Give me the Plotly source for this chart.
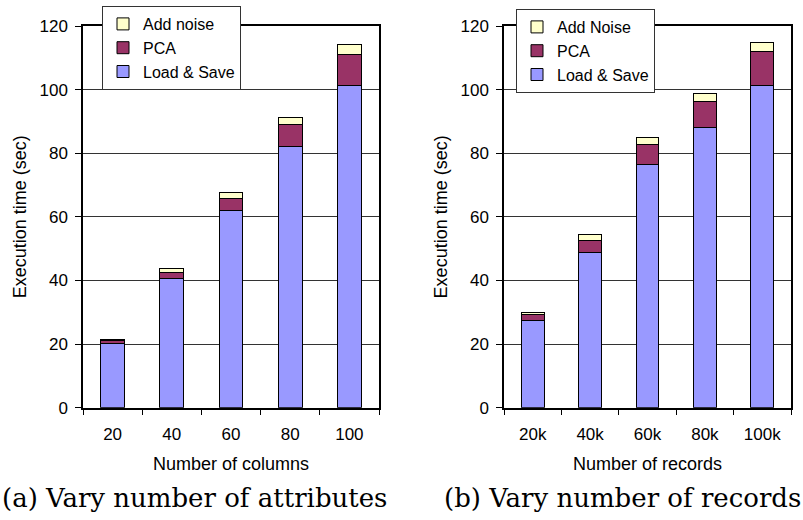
import plotly.graph_objects as go

cols = ["20", "40", "60", "80", "100"]
cols_load = [20.2, 40.5, 62.0, 82.2, 101.2]
cols_pca = [0.8, 2.0, 3.9, 6.7, 9.9]
cols_noise = [0.5, 1.2, 1.8, 2.4, 3.0]

recs = ["20k", "40k", "60k", "80k", "100k"]
recs_load = [27.5, 48.8, 76.4, 88.2, 101.2]
recs_pca = [1.7, 3.8, 6.2, 8.0, 10.7]
recs_noise = [0.7, 1.8, 2.2, 2.5, 2.9]

C_LOAD = "#9999FF"
C_PCA = "#993366"
C_NOISE = "#FFFFCC"

SANS = "Liberation Sans"

fig = go.Figure()
line = dict(color="black", width=1)

def add_group(xs, load, pca, noise, noise_name, xa, ya, leg):
    fig.add_trace(go.Bar(x=xs, y=load, name="Load & Save", marker=dict(color=C_LOAD, line=line),
                         xaxis=xa, yaxis=ya, legend=leg, width=0.4))
    fig.add_trace(go.Bar(x=xs, y=pca, name="PCA", marker=dict(color=C_PCA, line=line),
                         xaxis=xa, yaxis=ya, legend=leg, width=0.4))
    fig.add_trace(go.Bar(x=xs, y=noise, name=noise_name, marker=dict(color=C_NOISE, line=line),
                         xaxis=xa, yaxis=ya, legend=leg, width=0.4))

add_group(cols, cols_load, cols_pca, cols_noise, "Add noise", "x", "y", "legend")
add_group(recs, recs_load, recs_pca, recs_noise, "Add Noise", "x2", "y2", "legend2")

font_ax = dict(family=SANS, size=17, color="black")
font_title = dict(family=SANS, size=18, color="black")

def xaxis(domain, title, anchor):
    return dict(domain=domain, anchor=anchor, type="category", tickson="boundaries",
                ticks="outside", ticklen=6, tickcolor="black", showline=True, linecolor="black",
                linewidth=1.5, mirror=True, tickfont=font_ax, automargin=False,
                ticklabelstandoff=10,
                title=dict(text=title, font=font_title, standoff=15), showgrid=False)

def yaxis(domain, anchor):
    return dict(domain=domain, anchor=anchor, range=[0, 120], dtick=20, ticks="outside",
                ticklen=6, tickcolor="black", showline=True, linecolor="black", linewidth=1.5,
                mirror=True, tickfont=font_ax, showgrid=True, gridcolor="#333333", gridwidth=1,
                zeroline=False, automargin=False, ticklabelstandoff=4,
                title=dict(text="Execution time (sec)", font=font_title, standoff=8))

ydom = [1 - 407.7 / 520, 1 - 26 / 520]
legend_common = dict(bgcolor="white", bordercolor="#333333", borderwidth=1,
                     font=dict(family=SANS, size=16, color="black"),
                     traceorder="reversed", xanchor="left", yanchor="top")

fig.update_layout(
    width=803, height=520, margin=dict(l=0, r=0, t=0, b=0),
    paper_bgcolor="white", plot_bgcolor="white", barmode="stack", showlegend=True,
    xaxis=xaxis([83 / 803, 379 / 803], "Number of columns", "y"),
    yaxis=yaxis(ydom, "x"),
    xaxis2=xaxis([504 / 803, 791 / 803], "Number of records", "y2"),
    yaxis2=yaxis(ydom, "x2"),
    legend=dict(x=102 / 803, y=1 - 6 / 520, **legend_common),
    legend2=dict(x=516 / 803, y=1 - 9 / 520, **legend_common),
    annotations=[
        dict(text="(a) Vary number of attributes", x=194 / 803, y=1 - 498 / 520,
             xref="paper", yref="paper", showarrow=False, xanchor="center", yanchor="middle",
             font=dict(family="DejaVu Serif", size=26, color="black")),
        dict(text="(b) Vary number of records", x=622 / 803, y=1 - 498 / 520,
             xref="paper", yref="paper", showarrow=False, xanchor="center", yanchor="middle",
             font=dict(family="DejaVu Serif", size=26, color="black")),
    ],
)

fig.write_html("out.html")
